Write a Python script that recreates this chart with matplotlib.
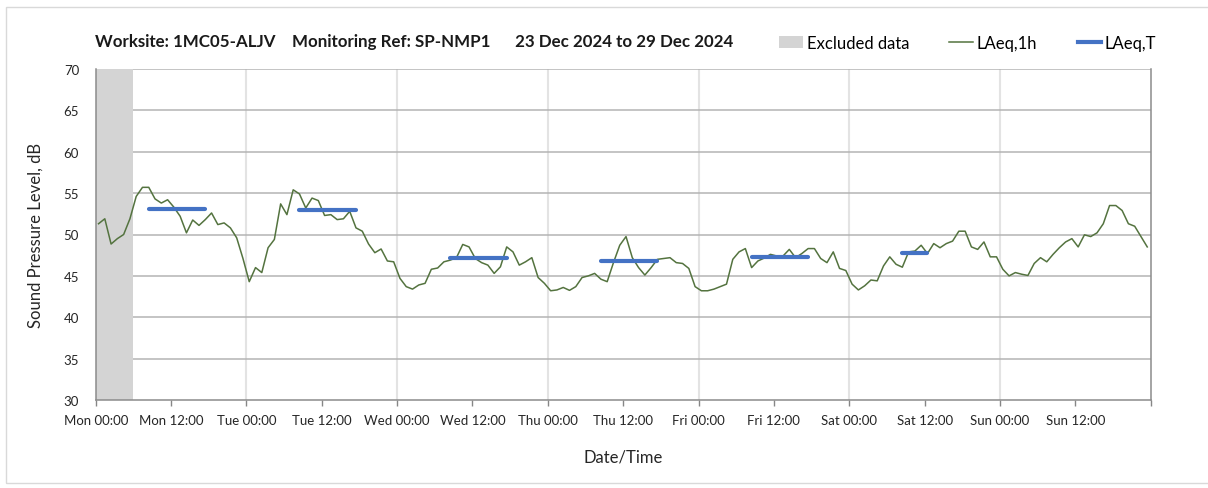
import matplotlib
matplotlib.use("Agg")
import matplotlib.pyplot as plt
import numpy as np
from matplotlib.lines import Line2D
from matplotlib.patches import Patch, Rectangle

plt.rcParams["font.family"] = ["Lato", "DejaVu Sans"]

# hourly LAeq,1h values, Mon 00:00 .. Sun 23:00
laeq_1h = [
    51.3, 51.9, 48.85, 49.5, 50.0, 51.9, 54.6, 55.7, 55.7, 54.3, 53.8, 54.2,
    53.3, 52.2, 50.2, 51.75, 51.1, 51.8, 52.6, 51.2, 51.4, 50.8, 49.6, 47.1,
    44.3, 46.0, 45.4, 48.4, 49.4, 53.7, 52.4, 55.4, 54.9, 53.2, 54.4, 54.1,
    52.3, 52.4, 51.8, 51.9, 52.8, 50.8, 50.4, 48.85, 47.8, 48.25, 46.8, 46.7,
    44.7, 43.7, 43.4, 43.9, 44.1, 45.8, 45.95, 46.7, 46.9, 47.2, 48.8, 48.5,
    47.1, 46.6, 46.3, 45.3, 46.1, 48.5, 47.9, 46.3, 46.7, 47.2, 44.8, 44.1,
    43.2, 43.3, 43.6, 43.25, 43.7, 44.8, 45.0, 45.3, 44.6, 44.3, 46.6, 48.7,
    49.75, 47.2, 46.0, 45.1, 46.0, 47.0, 47.1, 47.2, 46.6, 46.5, 45.9, 43.7,
    43.2, 43.2, 43.4, 43.7, 44.0, 47.0, 47.9, 48.3, 46.0, 46.8, 47.15, 47.6,
    47.4, 47.4, 48.2, 47.2, 47.7, 48.3, 48.3, 47.1, 46.6, 47.9, 45.9, 45.65,
    44.0, 43.3, 43.8, 44.5, 44.4, 46.2, 47.3, 46.4, 46.05, 47.9, 48.0, 48.7,
    47.7, 48.9, 48.4, 48.9, 49.2, 50.4, 50.4, 48.5, 48.2, 49.1, 47.3, 47.3,
    45.8, 45.0, 45.4, 45.2, 45.05, 46.5, 47.2, 46.7, 47.6, 48.4, 49.1, 49.5,
    48.5, 49.96, 49.75, 50.2, 51.3, 53.5, 53.5, 52.9, 51.3, 51.0, 49.75, 48.5,
]

# LAeq,T periods: first and last hour index, and level
period_start = [8, 32, 56, 80, 104, 128]
period_end = [17, 41, 65, 89, 113, 132]
laeq_t = [53.1, 53.0, 47.2, 46.75, 47.3, 47.8]

excluded = (0, 6)  # hours
days = ["Mon", "Tue", "Wed", "Thu", "Fri", "Sat", "Sun"]
tick_labels = [f"{d} {t}" for d in days for t in ("00:00", "12:00")]

title = ("Worksite: 1MC05-ALJV    Monitoring Ref: SP-NMP1      "
         "23 Dec 2024 to 29 Dec 2024")

GREEN = "#54733f"
BLUE = "#4472c4"
GREY = "#d4d4d4"

fig = plt.figure(figsize=(12.08, 4.89), dpi=100)
ax = fig.add_axes([95.7 / 1208, 1 - 401 / 489, 1055 / 1208, 331 / 489])

hours = np.arange(len(laeq_1h)) + 0.45
ax.axvspan(*excluded, color=GREY, lw=0, zorder=1)
ax.plot(hours, laeq_1h, color=GREEN, lw=1.1, zorder=3)
for s, e, v in zip(period_start, period_end, laeq_t):
    ax.plot([s + 0.45, e + 0.45], [v, v], color=BLUE, lw=3, zorder=4,
            solid_capstyle="round")

ax.set_xlim(0, 168)
ax.set_ylim(30, 70)
ax.set_yticks(range(30, 71, 5))
ax.set_xticks(np.arange(0, 169, 12))
ax.set_xticklabels(tick_labels + [""])
for h in range(24, 168, 24):
    ax.axvline(h, color="#e3e3e3", lw=1.5, zorder=0)
for y in range(35, 71, 5):
    ax.axhline(y, color="#b4b4b4", lw=1.1, zorder=0)

ax.tick_params(axis="x", direction="out", length=4, width=1, color="#868686",
               labelsize=9.5, pad=6, labelcolor="#262626")
ax.tick_params(axis="y", length=0, labelsize=9.5, pad=12, labelcolor="#262626")
for sp in ax.spines.values():
    sp.set_color("#8c8c8c")
    sp.set_linewidth(1.1)
ax.spines["top"].set_visible(False)

ax.set_ylabel("Sound Pressure Level, dB", fontsize=12, labelpad=14,
              color="#262626")
ax.set_xlabel("Date/Time", fontsize=12, labelpad=16, color="#262626")

fig.text(95 / 1208, 1 - 42 / 489, title, ha="left", va="center",
         fontsize=12.2, fontweight="bold", color="#1a1a1a")

handles = [
    Patch(facecolor=GREY, edgecolor="none"),
    Line2D([], [], color=GREEN, lw=1.1),
    Line2D([], [], color=BLUE, lw=3),
]
fig.legend(handles, ["Excluded data", "LAeq,1h", "LAeq,T"], ncol=3,
           loc="center", bbox_to_anchor=(968 / 1208, 1 - 44 / 489),
           frameon=False, fontsize=12, handlelength=1.4,
           columnspacing=2.4, handletextpad=0.25)

# outer chart-area border
fig.patches.append(Rectangle((6 / 1208, 1 - 484 / 489), 1.1, 476 / 489,
                             transform=fig.transFigure, fill=False,
                             edgecolor="#d9d9d9", lw=1))

fig.savefig("out.png", dpi=100)
